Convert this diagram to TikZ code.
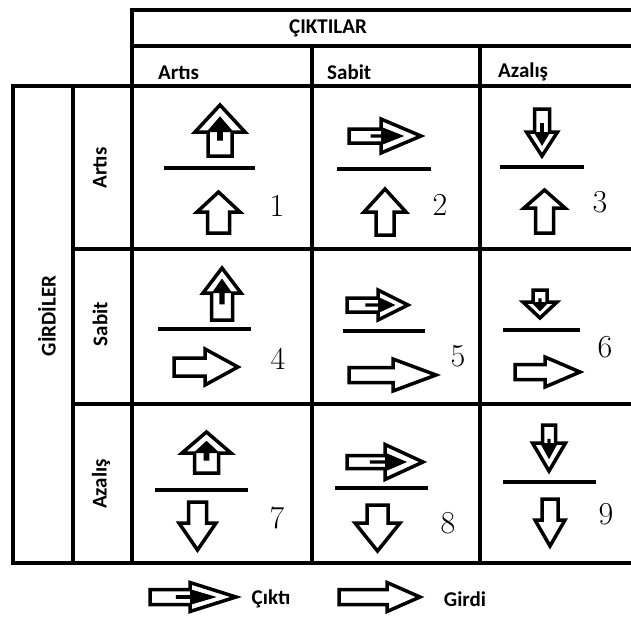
\documentclass[tikz,border=0pt]{standalone}
\usepackage{fontspec}
\newfontfamily\lblfont{Carlito}

% outline block arrow: #1,#2 tail centre, #3 direction angle, #4 length,
% #5 shaft width, #6 head width, #7 head length
\newcommand{\girdiarrow}[7]{%
  \begin{scope}[shift={(#1,#2)},rotate=#3]
    \draw[arrowline] (0,{-#5/2}) -- ({#4-#7},{-#5/2}) -- ({#4-#7},{-#6/2}) -- (#4,0)
      -- ({#4-#7},{#6/2}) -- ({#4-#7},{#5/2}) -- (0,{#5/2}) -- cycle;
  \end{scope}}
% output arrow: the outline arrow with a small solid arrow inside it
\newcommand{\ciktiarrow}[7]{%
  \girdiarrow{#1}{#2}{#3}{#4}{#5}{#6}{#7}%
  \begin{scope}[shift={(#1,#2)},rotate=#3]
    \fill ({0.3*#4},{-0.12*#5}) -- ({#4-#7},{-0.12*#5}) -- ({#4-#7},{-0.27*#6}) -- ({#4-0.42*#7},0)
      -- ({#4-#7},{0.27*#6}) -- ({#4-#7},{0.12*#5}) -- ({0.3*#4},{0.12*#5}) -- cycle;
  \end{scope}}

\tikzset{
  grid/.style={line width=4pt, line cap=rect},
  bar/.style={line width=4pt},
  arrowline/.style={line width=3.5pt, fill=white},
  lbl/.style={font=\lblfont\bfseries\fontsize{21}{21}\selectfont, inner sep=0pt},
  num/.style={font=\fontsize{32}{32}\selectfont, inner sep=0pt},
}

\begin{document}
\begin{tikzpicture}[x=1pt,y=-1pt]
\useasboundingbox[fill=white] (0,0) rectangle (631,621);

% table frame
\draw[grid] (132,10) -- (631,10);
\draw[grid] (132,46) -- (631,46);
\draw[grid] (13,86) -- (631,86);
\draw[grid] (73,249) -- (631,249);
\draw[grid] (73,404) -- (631,404);
\draw[grid] (13,563) -- (631,563);
\draw[grid] (13,86) -- (13,563);
\draw[grid] (73,86) -- (73,563);
\draw[grid] (132,10) -- (132,563);
\draw[grid] (312,46) -- (312,563);
\draw[grid] (480,46) -- (480,563);

% headings
\node[lbl] (cik) at (328,28) {ÇIKTILAR};
\node[lbl, anchor=base west] (hart) at (158,79) {Artıs};
\node[lbl, anchor=base west] (hsab) at (327,79) {Sabit};
\node[lbl, anchor=base west] (haza) at (498,77) {Azalış};
\node[lbl, rotate=90] (gir) at (47,316) {GİRDİLER};
\node[lbl, rotate=90] (rart) at (100,168) {Artıs};
\node[lbl, rotate=90] (rsab) at (100,324) {Sabit};
\node[lbl, rotate=90] (raza) at (101,484) {Azalış};

% fraction bars
\draw[bar] (164,168) -- (255,168);
\draw[bar] (337,169) -- (431,169);
\draw[bar] (500,167) -- (584,167);
\draw[bar] (158,329) -- (251,329);
\draw[bar] (343,331) -- (425,331);
\draw[bar] (503,330) -- (580,330);
\draw[bar] (155,490) -- (248,490);
\draw[bar] (335,488) -- (428,488);
\draw[bar] (503,482) -- (596,482);

% row 1
\ciktiarrow{220}{156}{90}{51}{24}{50}{27}
\girdiarrow{218.5}{233}{90}{41}{22}{43}{20}
\ciktiarrow{349}{136}{0}{72}{14}{34}{40}
\girdiarrow{385}{235}{90}{46}{18}{42}{23}
\ciktiarrow{542}{109}{-90}{47}{15}{31}{24}
\girdiarrow{544.5}{233}{90}{43}{18}{41}{18}

% row 2
\ciktiarrow{222}{320}{90}{52}{21}{38}{25}
\girdiarrow{174}{367}{0}{64}{18}{36}{33}
\ciktiarrow{347}{305}{0}{61}{14}{30}{30}
\girdiarrow{349}{375}{0}{87}{15}{32}{43}
\ciktiarrow{540}{290}{-90}{28}{14}{34}{16}
\girdiarrow{515}{372}{0}{65}{15}{30}{35}

% row 3
\ciktiarrow{206.5}{473}{90}{41}{24}{49}{21}
\girdiarrow{197.5}{502}{-90}{48}{18}{37}{27}
\ciktiarrow{347}{462}{0}{76}{13}{35}{38}
\girdiarrow{377.5}{505}{-90}{46}{21}{45}{28}
\ciktiarrow{549}{425}{-90}{46}{13}{33}{28}
\girdiarrow{550}{499}{-90}{47}{16}{30}{26}

% cell numbers
\node[num] (n1) at (277,206) {1};
\node[num] (n2) at (440,205) {2};
\node[num] (n3) at (600,202) {3};
\node[num] (n4) at (278,359) {4};
\node[num] (n5) at (458,356) {5};
\node[num] (n6) at (605,347) {6};
\node[num] (n7) at (277,518) {7};
\node[num] (n8) at (448,523) {8};
\node[num] (n9) at (606,514) {9};

% legend
\ciktiarrow{150}{597}{0}{86}{15}{29}{46}
\node[lbl] (lc) at (271,599) {Çıktı};
\girdiarrow{339}{597}{0}{81}{15}{29}{33}
\node[lbl] (lg) at (465,599) {Girdi};
\end{tikzpicture}
\end{document}
